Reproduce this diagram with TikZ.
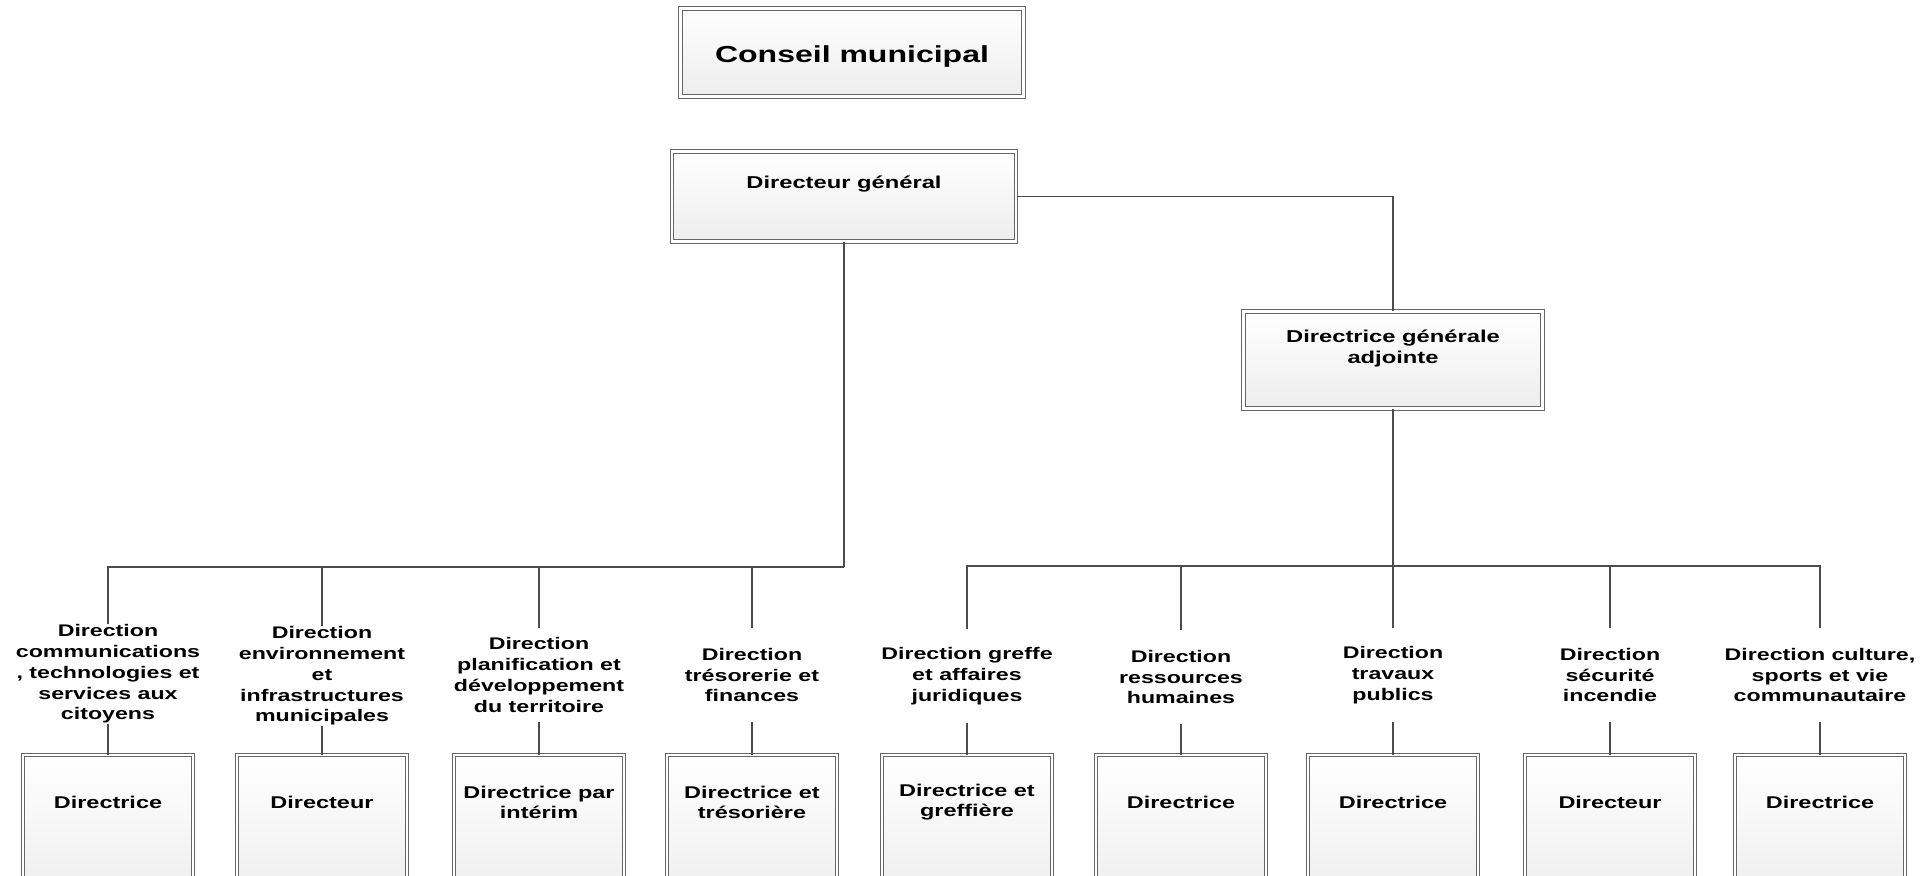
\documentclass[tikz,border=0pt]{standalone}
\usepackage{fontspec}
\setmainfont{Liberation Sans}[FakeStretch=1.38]
\usetikzlibrary{positioning}

\begin{document}
\begin{tikzpicture}[
    x=0.5pt, y=-0.5pt,
    box/.style={rectangle, draw=black!60, double=white, double distance=1.4pt, line width=0.5pt, top color=white, bottom color=black!7, inner sep=0pt},
    boxtext/.style={align=center, font=\bfseries\fontsize{8.6}{10.5}\selectfont},
    unit/.style={box, anchor=north, minimum width=85pt, minimum height=75pt},
    unittext/.style={align=center, font=\bfseries\fontsize{8.5}{10}\selectfont, yshift=13.75pt},
    dept/.style={align=center, inner sep=0pt, minimum height=47pt, font=\bfseries\fontsize{8.4}{10.35}\selectfont},
    link/.style={draw=black!70, line width=0.9pt}
]
    \clip (0,0) rectangle (1929,875);

    % Direction
    \node[box, minimum width=171.5pt, minimum height=44pt, label={[font=\bfseries\fontsize{11.6}{14}\selectfont, yshift=-2.15pt]center:Conseil municipal}] (conseil) at (852,52.5) {};
    \node[box, minimum width=172pt, minimum height=45pt, label={[boxtext, yshift=6pt]center:Directeur général}] (dg) at (844,196.5) {};
    \node[box, minimum width=149.5pt, minimum height=48.5pt, label={[boxtext, yshift=5.85pt]center:Directrice générale\\adjointe}] (dga) at (1393,360) {};

    % Directions
    \node[dept] (d1) at (108,674) {Direction\\communications\\, technologies et\\services aux\\citoyens};
    \node[dept] (d2) at (322,676) {Direction\\environnement\\et\\infrastructures\\municipales};
    \node[dept] (d3) at (539,675) {Direction\\planification et\\développement\\du territoire};
    \node[dept] (d4) at (752,675) {Direction\\trésorerie et\\finances};
    \node[dept] (d5) at (967,676) {Direction greffe\\et affaires\\juridiques};
    \node[dept] (d6) at (1181,677) {Direction\\ressources\\humaines};
    \node[dept] (d7) at (1393,675) {Direction\\travaux\\publics};
    \node[dept] (d8) at (1610,675) {Direction\\sécurité\\incendie};
    \node[dept] (d9) at (1820,675) {Direction culture,\\sports et vie\\communautaire};

    % Responsables
    \node[unit, label={[unittext]center:Directrice}] (u1) at (108,754.5) {};
    \node[unit, label={[unittext]center:Directeur}] (u2) at (322,754.5) {};
    \node[unit, label={[unittext]center:Directrice par\\intérim}] (u3) at (539,754.5) {};
    \node[unit, label={[unittext]center:Directrice et\\trésorière}] (u4) at (752,754.5) {};
    \node[unit, label={[unittext]center:Directrice et\\greffière}] (u5) at (967,754.5) {};
    \node[unit, label={[unittext]center:Directrice}] (u6) at (1181,754.5) {};
    \node[unit, label={[unittext]center:Directrice}] (u7) at (1393,754.5) {};
    \node[unit, label={[unittext]center:Directeur}] (u8) at (1610,754.5) {};
    \node[unit, label={[unittext]center:Directrice}] (u9) at (1820,754.5) {};

    % Liens
    \coordinate (busL) at (844,567);
    \coordinate (busR) at (1393,566);
    \draw[link] (dg.east) -| (dga.north);
    \draw[link] (dg.south) -- (busL);
    \draw[link] (dga.south) -- (busR);
    \draw[link] (busL) -| (d1.north);
    \draw[link] (busL) -| (d2.north);
    \draw[link] (busL) -| (d3.north);
    \draw[link] (busL) -| (d4.north);
    \draw[link] (busR) -| (d5.north);
    \draw[link] (busR) -| (d6.north);
    \draw[link] (busR) -- (d7.north);
    \draw[link] (busR) -| (d8.north);
    \draw[link] (busR) -| (d9.north);
    \draw[link] (d1.south) -- (u1.north);
    \draw[link] (d2.south) -- (u2.north);
    \draw[link] (d3.south) -- (u3.north);
    \draw[link] (d4.south) -- (u4.north);
    \draw[link] (d5.south) -- (u5.north);
    \draw[link] (d6.south) -- (u6.north);
    \draw[link] (d7.south) -- (u7.north);
    \draw[link] (d8.south) -- (u8.north);
    \draw[link] (d9.south) -- (u9.north);
\end{tikzpicture}
\end{document}
